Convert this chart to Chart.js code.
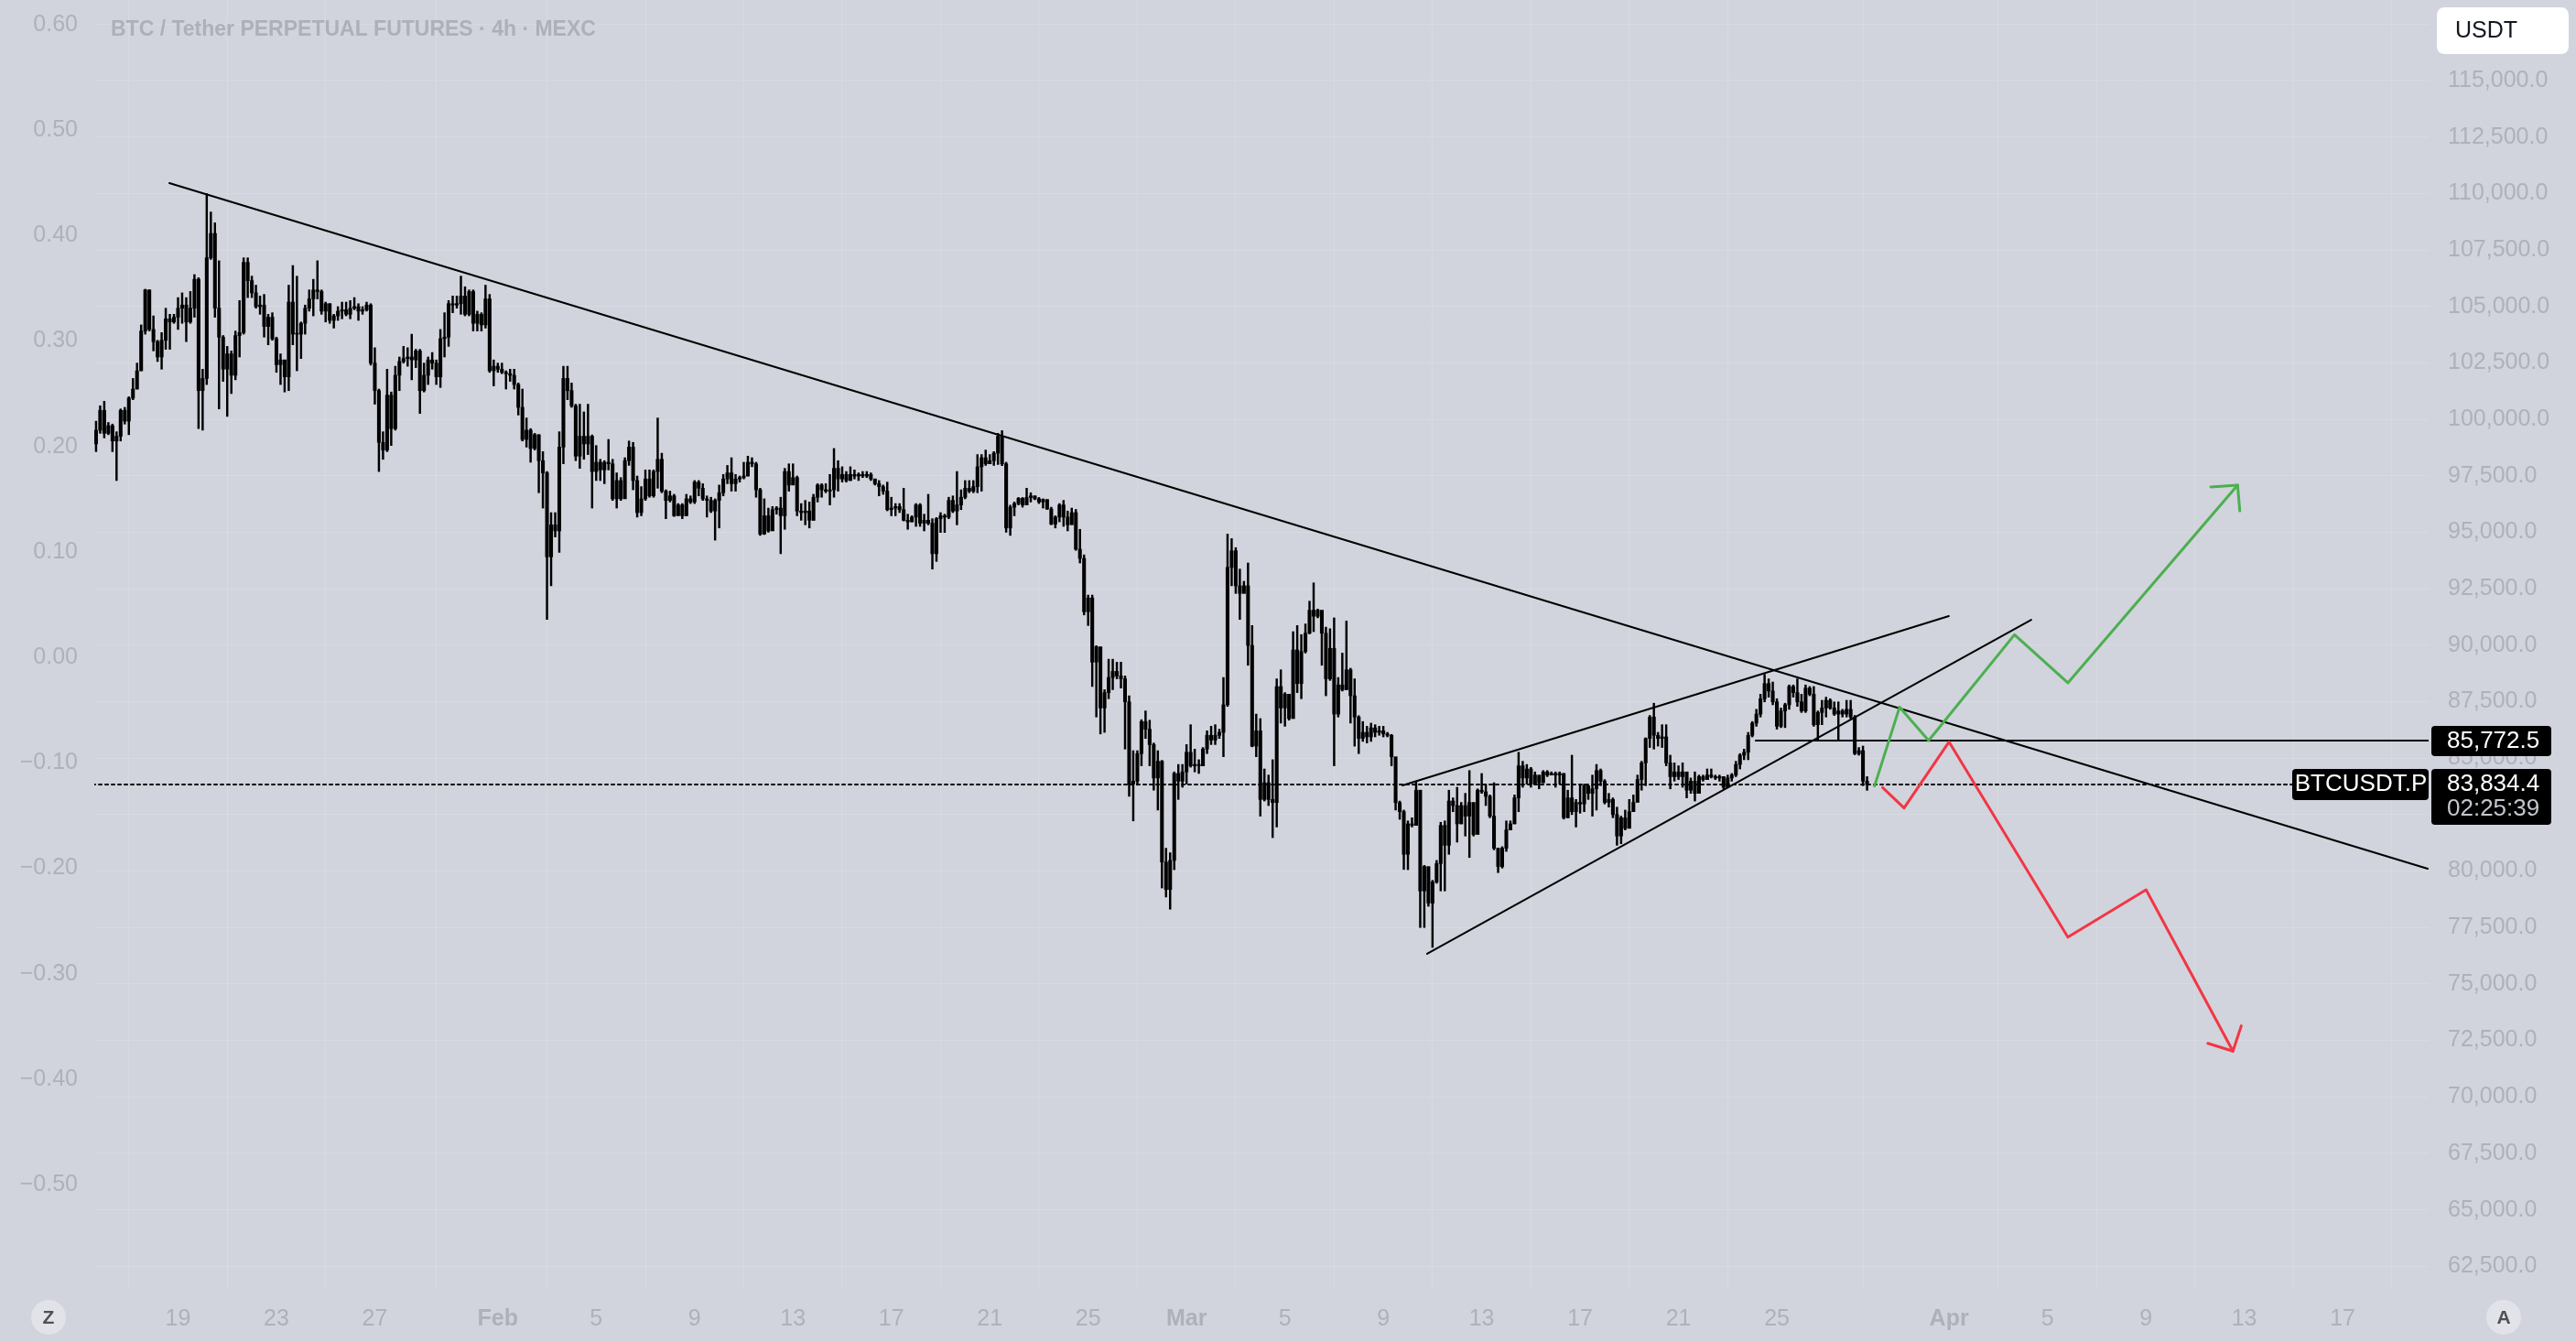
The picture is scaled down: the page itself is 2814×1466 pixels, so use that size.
<!DOCTYPE html>
<html>
<head>
<meta charset="utf-8">
<script src="https://cdn.jsdelivr.net/npm/chart.js@4/dist/chart.umd.min.js"></script>
<style>
html,body{margin:0;padding:0;background:#d1d4dc;overflow:hidden;}
canvas{display:block;}
</style>
</head>
<body>
<canvas id="c" width="2814" height="1466"></canvas>
<script>
// ---------------- DATA ----------------
const title = 'BTC / Tether PERPETUAL FUTURES · 4h · MEXC';
const symbol = 'BTCUSDT.P';
const quoteUnit = 'USDT';
const lastPrice = 83834.4;
const levelPrice = 85772.5;
const countdown = '02:25:39';

// time axis: days since Jan 1 2025 (Jan 19 = 18)
const startDay = 14 + 2/3;      // first 4h candle: Jan 15 16:00
const barDays = 1/6;            // 4h
const xTickDays   = [18,22,26,31,35,39,43,47,51,55,59,63,67,71,75,79,83,90,94,98,102,106];
const xTickLabels = ['19','23','27','Feb','5','9','13','17','21','25','Mar','5','9','13','17','21','25','Apr','5','9','13','17'];
const monthLabels = ['Feb','Mar','Apr'];
const priceTicks = [62500,65000,67500,70000,72500,75000,77500,80000,82500,85000,87500,90000,92500,95000,97500,100000,102500,105000,107500,110000,112500,115000,117500];
const pctTicks = [0.6,0.5,0.4,0.3,0.2,0.1,0,-0.1,-0.2,-0.3,-0.4,-0.5];

const firstOpen = 98910;
const closes = [
99520,100400,99380,99720,99040,99250,100400,99920,100940,101340,
102150,103910,105730,103980,103440,102760,103500,104450,104310,104520,
104920,105060,104310,104920,106200,101270,101810,107150,108230,104920,
103640,102220,102900,101950,103710,103840,106950,106140,105600,104990,
105060,104110,104520,103570,102420,102630,101880,105190,103770,103770,
104250,104920,105330,105730,105660,104790,105120,104380,104580,104790,
104850,104650,104920,104990,104790,104850,105060,102490,101270,98980,
98640,101070,99590,101950,102560,102690,102760,102630,103030,101270,
101950,102630,102490,101880,103570,103640,105120,105060,105120,105460,
104650,105660,104250,104650,104180,105330,102150,102350,102220,102080,
102020,101950,101540,100530,99110,99520,98710,99320,98170,97630,
93910,95330,95060,98770,101810,101270,100600,98370,99250,98910,
99250,97690,98100,97760,98100,98030,96480,97290,96480,98170,
98770,97290,95870,96480,97360,96610,97690,98230,96820,96410,
96610,95730,96210,95730,96480,96340,97220,96950,96480,96410,
95940,96410,96750,97360,97630,97150,97360,97420,97490,98100,
98030,96880,94920,95730,95060,96000,96070,95730,97690,97090,
97420,95940,95870,95940,95530,96550,97090,96880,96820,96880,
97830,97360,97560,97290,97560,97490,97560,97490,97560,97360,
97150,97020,96820,96000,96070,96140,96000,95530,95460,95670,
96210,95400,95530,95400,94050,95600,95730,95670,96410,95940,
96210,96550,96950,96820,97020,97900,98300,98030,98170,98500,
99250,98030,95190,96110,96270,96500,96210,96540,96610,96480,
96340,96450,96030,95360,95670,96210,95670,95330,95870,94250,
93840,91480,92090,89250,89930,87220,87900,88570,88840,88640,
88510,87490,83850,83980,85200,86620,86280,85600,84120,84860,
80400,79180,80470,84320,83980,84390,85260,84660,84720,84660,
85400,86010,85800,86010,86140,87360,93440,94180,92630,92290,
92630,89990,85530,86210,83170,83910,83170,83030,88170,87220,
87830,86750,89790,88300,89720,90530,91550,91280,91550,90530,
88510,89860,86950,88240,88030,88910,87760,86820,85870,86140,
85940,86340,86140,86210,86070,86010,85060,83030,
82630,80740,82090,82020,83580,79120,80200,78580,79520,80330,
82020,81140,83100,82900,82090,82900,82430,83040,81620,83580,
83510,83310,82430,81010,80200,81010,81820,82090,83240,84660,
84120,84520,83850,84250,83910,84390,84250,84320,84250,84320,
82360,83240,82630,83040,82970,83780,83440,83640,84450,83980,
83040,83170,82500,81550,82360,81890,82630,83040,
84050,84790,85870,86820,86010,85870,85940,84790,84180,84390,
84180,84390,83580,83980,83440,84180,84050,84250,84180,84120,
84180,83710,84120,84250,84720,85130,85260,86010,86550,86950,
87630,88300,87970,87490,86410,87090,87360,88170,87900,87490,
87090,88100,87830,86480,87020,87220,87560,87220,86950,87090,
86950,87160,86820,85200,85330,83980,83830
];
const highs = [
99920,100600,100800,99860,99790,99450,100460,100530,101000,101810,
102490,104180,105760,105730,104580,103500,103840,104920,104650,104650,
105390,105600,105390,105660,106410,106270,102220,109990,109180,108700,
107020,103710,103230,103030,103910,105260,107150,107150,106340,105940,
105460,105530,104650,104720,103640,102900,102630,105940,106810,106340,
104310,105060,105730,106200,107020,105730,105190,105120,104650,104990,
105190,105190,105260,105390,105120,104990,105190,105120,103170,101340,
99450,102220,101210,102350,102760,103230,103170,103770,103100,103100,
102490,102760,102960,102630,103980,104720,105260,105460,105460,106340,
105870,105730,105730,104790,104720,105940,105530,102630,102490,102490,
102150,102220,102220,101610,101340,100060,99590,99380,99320,98570,
97690,95870,95870,99450,102350,102350,101610,100670,100670,100330,
100670,99310,98840,98230,98170,99110,98230,97630,97420,98300,
99040,98980,97490,97020,97760,97760,97760,100060,98500,96880,
96820,96680,96270,96270,96680,96610,97290,97290,97150,96610,
96550,96480,97090,97560,97960,98300,97560,97490,98100,98370,
98300,98100,96950,96480,96070,96140,96140,96550,97830,98030,
98030,97490,96270,96410,96340,96680,97150,97150,97150,97560,
98710,98170,97900,97690,97900,97760,97630,97690,97690,97630,
97360,97290,97090,97220,96550,96270,96270,96950,95800,95730,
96270,96270,95800,96680,95600,95650,95870,95800,96550,96610,
97690,96880,97290,97290,97290,98440,98440,98640,98440,98570,
99380,99500,98100,96200,96340,96540,96540,96950,96750,96610,
96540,96480,96440,96110,95730,96270,96410,95940,96070,96010,
95130,94000,92220,92220,89980,89450,88030,89380,89380,89250,
89250,88640,87760,85330,85330,86700,87090,86680,85670,85330,
84900,81010,80810,84390,84720,84720,85600,86480,85400,84930,
85470,86210,86410,86480,86280,88570,94920,94720,94320,93370,
92830,93640,90870,86950,86750,84520,84250,84930,88510,88910,
87900,87700,90600,90870,90470,90940,91950,92760,91600,91410,
90800,90730,91210,88570,89650,91070,88980,88510,86880,86620,
86410,86550,86480,86410,86410,86140,86050,85000,
83100,82700,82220,82360,83980,83580,80250,79050,79590,80470,
82160,82220,83580,83240,83710,83040,83440,84450,82830,83640,
84320,83850,83370,83910,81010,81080,82220,82220,83370,85260,
84860,84720,84590,84390,84050,84450,84450,84390,84390,84390,
84320,83580,85130,83170,83850,83850,83710,84250,84720,84520,
84050,83440,83240,82830,82430,82700,83170,83370,
84250,84860,85900,86890,87430,86140,86480,86480,85130,84790,
84660,84790,84180,84120,84390,84250,84250,84520,84520,84250,
84250,84180,84250,84320,84860,85200,85400,86140,86620,87160,
87830,88710,88510,88370,87630,87220,87430,88240,88240,88510,
87830,88240,88170,88170,87090,87560,87700,87630,87490,87490,
87160,87560,87560,86890,85470,85535,84180
];
const lows = [
98570,99380,99180,99320,98570,97290,99040,99790,99320,100870,
101340,102150,103770,103910,103030,102560,102220,103100,103100,104250,
103980,104250,103440,104250,104520,99590,99520,101540,107080,104520,
100460,101680,100130,101140,101750,102760,103770,105390,105390,104920,
104650,103640,103300,103500,102080,101540,101210,101270,103300,102150,
102690,103770,104790,104580,105330,104650,104310,104250,104040,104380,
104450,104580,104450,104850,104380,104650,104790,102400,100670,97690,
98230,98570,98840,99520,101270,102490,102350,101750,102290,100260,
101210,101540,102220,101540,101410,102760,103230,104720,104920,104650,
104580,104580,103910,103910,103910,104040,102080,101480,102080,102020,
101340,101680,101340,100190,99040,98770,98100,98640,96750,96070,
91140,92630,94790,94110,98030,100870,100530,98170,97830,98230,
98440,96070,97290,97290,97150,97760,96410,96070,96410,97220,
97960,96880,95670,95730,96410,96550,96550,96950,96750,95600,
96340,95700,95870,95600,95730,96270,96270,96610,96410,95670,
95870,94650,95190,96610,97150,96820,96820,97220,97360,97490,
97900,96550,94860,94900,95000,95190,95800,94050,95130,96820,
97290,95730,95530,95330,95190,95530,96340,96550,96750,96210,
96550,96820,97220,97220,97290,97360,97290,97420,97420,97290,
97090,96610,96680,95950,95730,95730,95870,95500,95130,95460,
95260,95260,95060,95330,93370,93710,94990,94990,95600,95870,
95330,96000,96480,96750,96750,96750,96820,97960,98030,97960,
98000,97950,95000,94860,95730,96210,96110,96440,96340,96440,
96270,96070,96010,95330,95190,95460,95260,95060,95460,94200,
93640,91340,90870,88170,86820,86070,86140,87630,88030,88510,
88100,85400,83310,82220,83800,84660,85870,84660,83580,82700,
79250,78850,78310,80060,83170,83710,83850,84600,84390,84320,
84660,85200,85600,85600,85870,85060,87290,92630,92290,91140,
92360,89110,85500,85060,82430,83100,82900,81480,81950,86550,
86410,86680,87560,87900,87630,89650,90500,90600,91210,89110,
87760,88440,84660,86820,87970,88030,86550,85530,85200,85740,
85670,85740,85940,86010,85940,85940,84660,82700,
82290,80070,80060,81950,82020,77500,77500,78440,76620,79460,
79120,79120,80740,82630,81280,82090,81550,80600,81550,82630,
83440,82900,82360,80940,79930,80130,80870,81820,82090,82630,
83710,83850,83710,83850,83640,83910,84180,84250,83710,83850,
82300,82360,82500,81950,82560,82630,83170,82430,82700,83780,
82970,82830,82360,81140,81210,81820,82500,82760,
83100,83580,83780,85470,85400,85530,85470,84660,83640,83980,
84050,83710,83240,83440,83100,83850,83980,84120,84120,84050,
83980,83640,83710,83980,84180,84520,84930,84930,85940,86410,
86820,87490,87700,87360,86280,86350,86350,87160,87700,87290,
87020,87020,87760,86410,85800,86480,86820,87160,86890,85800,
86820,86820,86750,85150,85130,83780,83575
];

// drawings (day, price)
const trendDown   = [{x:17.646,y:110460},{x:109.46,y:80103}];
const wedgeUpper  = [{x:67.78,y:83791},{x:89.99,y:91289}];
const wedgeLower  = [{x:68.78,y:76334},{x:93.34,y:91127}];
const levelLine   = [{x:82.14,y:levelPrice},{x:109.6,y:levelPrice}];
const lastLine    = [{x:14.0,y:lastPrice},{x:109.6,y:lastPrice}];
const greenPath   = [{x:86.97,y:83767},{x:87.99,y:87260},{x:89.17,y:85777},{x:92.66,y:90463},{x:94.83,y:88331},{x:101.73,y:97085}];
const greenHead   = [{x:100.64,y:97004},{x:101.73,y:97085},{x:101.82,y:95950}];
const redPath     = [{x:87.30,y:83694},{x:88.17,y:82790},{x:90.00,y:85720},{x:94.83,y:77070},{x:98.01,y:79171},{x:101.54,y:72025}];
const redHead     = [{x:100.52,y:72370},{x:101.54,y:72025},{x:101.88,y:73148}];

// ---------------- STYLE / LAYOUT ----------------
const BG = '#d1d4dc';
const AXIS_TXT = '#aeb1b9';
const GRID = 'rgba(240,243,250,0.22)';
const FONT = '"Liberation Sans", Arial, Helvetica, sans-serif';
const X_MIN = 14.595, X_MAX = 109.496;
const P_MIN = 61459, P_MAX = 118566;
const L_MIN = -0.5997, L_MAX = 0.6234;

const n = Math.min(closes.length, highs.length, lows.length);
const bodyData = [], wickData = [];
for (let i = 0; i < n; i++) {
  const t = startDay + i * barDays;
  const o = i === 0 ? firstOpen : closes[i - 1];
  bodyData.push({x: t, y: [o, closes[i]]});
  wickData.push({x: t, y: [lows[i], highs[i]]});
}

function fmtPrice(v, d) {
  return v.toLocaleString('en-US', {minimumFractionDigits: d, maximumFractionDigits: d});
}
function fmtPct(v) {
  const r = Math.round(v * 100) / 100;
  if (Math.abs(r) < 1e-9) return '0.00';
  return (r < 0 ? '\u2212' : '') + Math.abs(r).toFixed(2);
}
function xLabel(v) {
  const k = xTickDays.findIndex(d => Math.abs(d - v) < 1e-6);
  return k >= 0 ? xTickLabels[k] : '';
}
function rr(c, x, y, w, h, r, fill) {
  c.beginPath();
  c.moveTo(x + r, y);
  c.lineTo(x + w - r, y); c.quadraticCurveTo(x + w, y, x + w, y + r);
  c.lineTo(x + w, y + h - r); c.quadraticCurveTo(x + w, y + h, x + w - r, y + h);
  c.lineTo(x + r, y + h); c.quadraticCurveTo(x, y + h, x, y + h - r);
  c.lineTo(x, y + r); c.quadraticCurveTo(x, y, x + r, y);
  c.closePath(); c.fillStyle = fill; c.fill();
}
function noPad(s) { s.paddingTop = 0; s.paddingBottom = 0; s.paddingLeft = 0; s.paddingRight = 0; }

const overlay = {
  id: 'overlay',
  beforeDraw(chart) {
    const c = chart.ctx; c.save(); c.fillStyle = BG; c.fillRect(0, 0, chart.width, chart.height); c.restore();
  },
  afterDraw(chart) {
    const c = chart.ctx, ca = chart.chartArea, yS = chart.scales.y;
    c.save();
    c.textBaseline = 'middle';
    // title
    c.textAlign = 'left';
    c.font = 'bold 23px ' + FONT;
    c.fillStyle = '#adb0b8';
    c.fillText(title, ca.left + 18, 33);
    // unit button
    rr(c, 2662, 8, 144, 51, 9, '#ffffff');
    c.font = '25px ' + FONT; c.fillStyle = '#131722';
    c.fillText(quoteUnit, 2682, 34);
    // level price label
    const yL = yS.getPixelForValue(levelPrice);
    rr(c, ca.right + 3, yL - 16, 131, 33, 4, '#000000');
    c.font = '26px ' + FONT; c.fillStyle = '#ffffff';
    c.fillText(fmtPrice(levelPrice, 1), ca.right + 20, yL + 1);
    // last price label
    const yP = yS.getPixelForValue(lastPrice);
    rr(c, ca.right + 3, yP - 17, 131, 61, 4, '#000000');
    c.fillStyle = '#ffffff';
    c.fillText(fmtPrice(lastPrice, 1), ca.right + 20, yP);
    c.fillStyle = '#c3c6cd';
    c.fillText(countdown, ca.right + 20, yP + 27);
    // symbol label
    rr(c, ca.right - 149, yP - 17, 149, 34, 4, '#000000');
    c.fillStyle = '#ffffff'; c.textAlign = 'center';
    c.fillText(symbol, ca.right - 74, yP);
    // corner buttons
    [['Z', 53], ['A', 2735]].forEach(([t, cx]) => {
      c.beginPath(); c.arc(cx, 1439, 19, 0, Math.PI * 2); c.fillStyle = '#e1e3e8'; c.fill();
      c.font = 'bold 21px ' + FONT; c.fillStyle = '#4f5157'; c.textAlign = 'center';
      c.fillText(t, cx, 1440);
    });
    c.restore();
  }
};

const lineDs = (data, color, width, dash, order) => ({
  type: 'line', data, borderColor: color, borderWidth: width, borderDash: dash || [],
  pointRadius: 0, fill: false, tension: 0, order: order, borderCapStyle: 'round', borderJoinStyle: 'round'
});

new Chart(document.getElementById('c'), {
  type: 'bar',
  data: {
    datasets: [
      {type: 'bar', data: wickData, backgroundColor: '#000000', barThickness: 1.8, grouped: false, borderWidth: 0, order: 20},
      {type: 'bar', data: bodyData, backgroundColor: '#000000', barThickness: 3.4, minBarLength: 1, grouped: false, borderWidth: 0, order: 19},
      lineDs(lastLine, '#000000', 2, [3, 4], 15),
      lineDs(trendDown, '#000000', 2, null, 5),
      lineDs(wedgeUpper, '#000000', 2, null, 5),
      lineDs(wedgeLower, '#000000', 2, null, 5),
      lineDs(levelLine, '#000000', 2, null, 5),
      lineDs(greenPath, '#4caf50', 3, null, 2),
      lineDs(greenHead, '#4caf50', 3, null, 2),
      lineDs(redPath, '#f23645', 3, null, 2),
      lineDs(redHead, '#f23645', 3, null, 2)
    ]
  },
  options: {
    responsive: false, animation: false, devicePixelRatio: 1,
    layout: {padding: 0, autoPadding: false},
    plugins: {legend: {display: false}, tooltip: {enabled: false}},
    scales: {
      x: {
        type: 'linear', position: 'bottom', min: X_MIN, max: X_MAX, offset: false,
        afterBuildTicks: s => { s.ticks = xTickDays.map(v => ({value: v})); },
        afterFit: s => { s.height = 57; noPad(s); },
        grid: {color: GRID, drawTicks: false, lineWidth: 1},
        border: {display: false},
        ticks: {
          autoSkip: false, maxRotation: 0, padding: 17, color: AXIS_TXT,
          callback: v => xLabel(v),
          font: ctx => ({family: FONT, size: 25, weight: (ctx.tick && monthLabels.includes(xLabel(ctx.tick.value))) ? 'bold' : 'normal'})
        }
      },
      y: {
        type: 'linear', position: 'right', min: P_MIN, max: P_MAX,
        afterBuildTicks: s => { s.ticks = priceTicks.map(v => ({value: v})); },
        afterFit: s => { s.width = 161; noPad(s); },
        grid: {color: GRID, drawTicks: false, lineWidth: 1},
        border: {display: false},
        ticks: {
          autoSkip: false, padding: 21, color: AXIS_TXT,
          font: {family: FONT, size: 25},
          callback: v => (v > 115000 ? '' : fmtPrice(v, 1))
        }
      },
      y2: {
        type: 'linear', position: 'left', min: L_MIN, max: L_MAX,
        afterBuildTicks: s => { s.ticks = pctTicks.map(v => ({value: v})); },
        afterFit: s => { s.width = 103; noPad(s); },
        grid: {display: false, drawTicks: false},
        border: {display: false},
        ticks: {
          autoSkip: false, padding: 18, color: AXIS_TXT,
          font: {family: FONT, size: 25},
          callback: v => fmtPct(v)
        }
      }
    }
  },
  plugins: [overlay]
});
</script>
</body>
</html>
